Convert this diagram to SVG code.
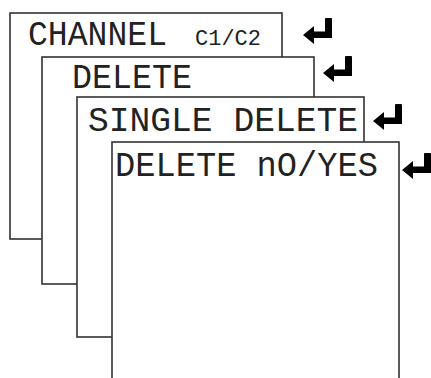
<svg xmlns="http://www.w3.org/2000/svg" width="431" height="378" viewBox="0 0 431 378">
<style>
.box{fill:#fff;stroke:#333;stroke-width:1.6}
.lcd{font-family:"Liberation Mono","DejaVu Sans Mono",monospace;font-size:35px;fill:#222}
.sm{font-size:22px}
</style>
<defs>
<path id="enter" d="M22 1 Q22 0 23 0 L28 0 Q29 0 29 1 L29 20 L11 20 L11 26 L0 17 L11 8 L11 13.5 L22 13.5 Z" fill="#000"/>
</defs>
<rect width="431" height="378" fill="#fff"/>
<g id="screen1">
<rect class="box" x="10" y="13" width="272" height="226"/>
<text class="lcd" x="28" y="45" textLength="139" lengthAdjust="spacingAndGlyphs">CHANNEL</text>
<text class="lcd sm" x="195" y="45" textLength="66" lengthAdjust="spacingAndGlyphs">C1/C2</text>
</g>
<g id="screen2">
<rect class="box" x="42" y="57" width="272" height="227"/>
<text class="lcd" x="72" y="88" textLength="120" lengthAdjust="spacingAndGlyphs">DELETE</text>
</g>
<g id="screen3">
<rect class="box" x="77" y="97" width="287" height="240"/>
<text class="lcd" x="88" y="131" textLength="270" lengthAdjust="spacingAndGlyphs">SINGLE DELETE</text>
</g>
<g id="screen4">
<rect class="box" x="112" y="142" width="287" height="260"/>
<text class="lcd" x="115" y="176" textLength="263" lengthAdjust="spacingAndGlyphs">DELETE nO/YES</text>
</g>
<g id="connectors">
<use href="#enter" x="303" y="18"/>
<use href="#enter" x="323" y="56"/>
<use href="#enter" x="373" y="104"/>
<use href="#enter" x="402" y="153"/>
</g>
</svg>
